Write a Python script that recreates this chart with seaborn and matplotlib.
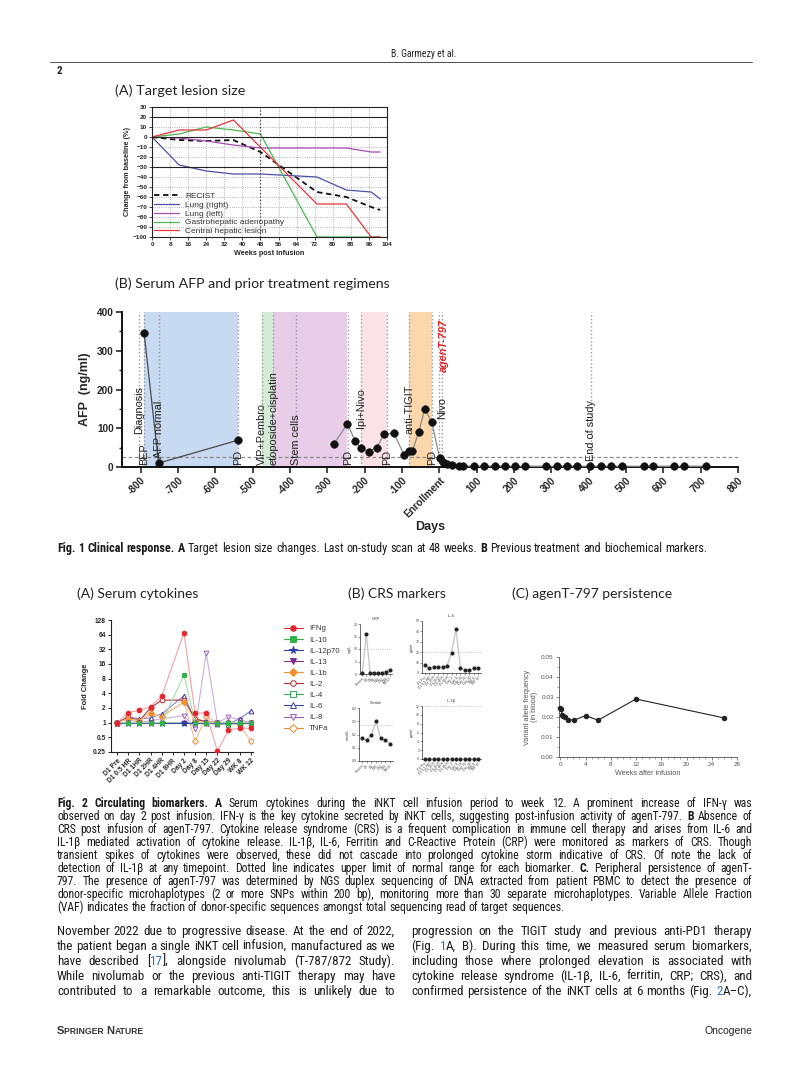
import numpy as np
import pandas as pd
import matplotlib
matplotlib.use("Agg")
import matplotlib.pyplot as plt
from matplotlib import font_manager as fm
from matplotlib.lines import Line2D
import seaborn as sns

W, H = 805, 1079

# ---------------- Fig 1A: target lesion size ----------------
wk_common = [0, 12, 24, 36, 48, 73, 86, 97, 101]
recist = [0, -3, -4, -3, -15, -55, -60, -70, -73]
lung_right = [0, -28, -34, -37, -37, -40, -53, -55, -62]
lung_left = [0, -1, -4, -8, -11, -11, -11, -15, -15]
gastro = [0, 3, 10, 7, 3, -100, -100, -100, -100]
wk_hepatic = [0, 12, 24, 36, 73, 86, 97, 101]
hepatic = [0, 7, 7, 17, -67, -67, -100, -100]

# ---------------- Fig 1B: serum AFP ----------------
afp_day = [-791, -752, -540,
           -282, -246, -226, -210, -189, -168, -148, -122, -95, -81, -72, -55, -39, -20,
           1, 9, 20, 35, 52, 64, 93, 120, 149, 175, 202, 230, 286, 315, 342, 370, 404,
           432, 461, 488, 547, 573, 629, 655, 714]
afp_val = [347, 10, 69,
           60, 112, 68, 49, 40, 50, 84, 88, 32, 42, 42, 91, 150, 115,
           22, 14, 7, 4, 3, 3, 2, 2, 3, 2, 2, 2, 2, 2, 3, 2, 2,
           2, 2, 2, 2, 2, 2, 2, 2]
afp_seg = [0, 0, 0] + [1] * 39

regimens = ["BEP", "VIP+Pembro", "etoposide+cisplatin", "Ipi+Nivo", "anti-TIGIT"]
reg_start = [-790, -475, -445, -210, -80]
reg_end = [-540, -445, -248, -140, -20]
reg_color = ["#c8daf1", "#d3ebd7", "#e8cde8", "#fbe2e6", "#fbd7ab"]

event_day = [-805, -790, -752, -540, -475, -445, -385, -245, -210, -140, -80, -20, 0, 8, 405]
event_label = ["Diagnosis", "BEP", "AFP normal", "PD", "VIP+Pembro", "etoposide+cisplatin",
               "Stem cells", "PD", "Ipi+Nivo", "PD", "anti-TIGIT", "PD", "", "Nivo", "End of study"]
event_y = [85, 5, 22, 5, 5, 5, 5, 5, 100, 5, 85, 5, 0, 125, 15]

# ---------------- Fig 2A: serum cytokines ----------------
timepoints = ["D1 Pre", "D1 0.5 HR", "D1 1HR", "D1 2HR", "D1 4HR", "D1 8HR", "Day 2",
              "Day 8", "Day 15", "Day 22", "Day 29", "WK 8", "WK 12"]
nan = np.nan
ifng = [1, 1.6, 1.8, 2.1, 3.5, nan, 70, 1.55, 1.6, 0.26, 0.7, 0.78, 0.76]
il10 = [1, 1, 1, 1, 1, nan, 9.5, 1, 1, 1, 1, 1, 1]
il12p70 = [1, 1, 1, 1, 1, nan, 1, 1, 1, 1, 1, 1, 1]
il13 = [1, 1, 1, 1, 1, nan, 1, 1, 1, 1, 1, 1, 1]
il1b = [1, 1.2, 1.1, 1.6, 1.3, nan, 2.7, 1.1, 1, 1, 1, 1, 1]
il2 = [1, 1.3, 1.1, 2.0, 2.9, nan, 2.9, 1.2, 1.05, 1, 1, 1, 1]
il4 = [1, 1, 1, 1, 1, nan, 1, 1, 1, 0.92, 0.9, 1, 1]
il6 = [1, 1.3, 1.2, 1.25, 1.5, nan, 3.6, 1.15, 1.05, 0.92, 0.95, 1.2, 1.75]
il8 = [1, 1.2, 1.0, 1.1, 1.2, nan, 1.4, 0.75, 27, 1.0, 1.3, 1.15, 1.0]
tnfa = [1, 1.2, 1.1, 1.5, 1.4, nan, 2.6, 0.42, 1.35, 1.0, 1.0, 0.88, 0.42]

cyto_names = ["IFNg", "IL-10", "IL-12p70", "IL-13", "IL-1b", "IL-2", "IL-4", "IL-6", "IL-8", "TNFa"]
cyto_vals = [ifng, il10, il12p70, il13, il1b, il2, il4, il6, il8, tnfa]
cyto_mark = ["o", "s", "*", "v", "D", "o", "s", "^", "v", "D"]
cyto_fill = [True, True, True, True, True, False, False, False, False, False]
cyto_col = ["#e4252b", "#33b04a", "#2f3d9c", "#7d2f8f", "#f39130",
            "#b3262a", "#3aa655", "#3d3f9e", "#9b5bb5", "#e8882c"]
cyto_line = ["#f5a0a2", "#a6dba9", "#3f4aa4", "#b98ac6", "#f7c48f",
             "#a83a38", "#9fd3a7", "#8587c8", "#cdaedb", "#f1bd8d"]

# ---------------- Fig 2B: CRS markers ----------------
crp_lab = ["Screen", "D1", "D2", "D8", "D15", "D22", "D29", "WK12"]
crp = [0.5, 16, 0.5, 0.5, 0.5, 0.6, 1.0, 1.8]
ferr_lab = ["Screen", "D2", "D8", "D15", "D22", "D29", "WK12"]
ferritin = [0.17, 0.16, 0.195, 0.30, 0.17, 0.155, 0.13]
il6_crs = [7.5, 4.5, 5.5, 5.8, 6, 7, 19.5, 42, 5, 2.5, 2.5, 5, 5.2]
il1b_crs = [0] * 13

# ---------------- Fig 2C: persistence ----------------
pers_week = [0, 0.15, 0.3, 0.5, 0.8, 1.2, 2.2, 4, 6, 12, 26]
pers_vaf = [0.0245, 0.0238, 0.021, 0.0205, 0.0198, 0.0187, 0.0184, 0.0207, 0.0184, 0.029, 0.0195]

# =====================================================================
sns.set_theme(style="ticks")
plt.rcParams["font.family"] = ["Liberation Sans", "DejaVu Sans"]
plt.rcParams["axes.facecolor"] = "white"
plt.rcParams["figure.facecolor"] = "white"

names = {f.name for f in fm.fontManager.ttflist}
narrow = "Liberation Sans"
for cand in ["Liberation Sans Narrow", "DejaVu Sans Condensed", "Roboto Condensed"]:
    if cand in names:
        narrow = cand
        break
cap_font = narrow
title_font = ["Lato", "DejaVu Sans"]

fig = plt.figure(figsize=(W / 100, H / 100), dpi=100)
R = fig.canvas.get_renderer()


def rect(l, t, r, b):
    return [l / W, 1 - b / H, (r - l) / W, (b - t) / H]


def ftext(x, y, s, **kw):
    return fig.text(x / W, 1 - y / H, s, **kw)


def bold_ticks(ax):
    for lab in ax.get_xticklabels() + ax.get_yticklabels():
        lab.set_fontweight("bold")


def run_text(x, y, pieces, **kw):
    # draw consecutive pieces (text, size) on one baseline
    for s, size in pieces:
        t = ftext(x, y, s, fontsize=size, va="baseline", **kw)
        x += t.get_window_extent(R).width


# ---------- page header ----------
ftext(456, 57, "B. Garmezy et al.", fontsize=7.0, family=narrow, color="#222", ha="right")
fig.add_artist(Line2D([50 / W, 752 / W], [1 - 62 / H, 1 - 62 / H], color="#333", lw=0.6))
ftext(57, 74, "2", fontsize=8, fontweight="bold", family=narrow, color="#222")

# ---------- Fig 1A ----------
ftext(115, 95, "(A) Target lesion size", fontsize=10.4, family=title_font, color="#222")
ax = fig.add_axes(rect(152, 107, 387, 237))
df = pd.DataFrame({"week": wk_common, "RECIST": recist, "Lung (right)": lung_right,
                   "Lung (left)": lung_left, "Gastrohepatic adenopathy": gastro})
for name, col, ls, lw in [("RECIST", "#111111", (0, (3, 2)), 1.3),
                          ("Lung (right)", "#4b50a8", "-", 0.9),
                          ("Lung (left)", "#a24fae", "-", 0.9),
                          ("Gastrohepatic adenopathy", "#4cb851", "-", 0.9)]:
    sns.lineplot(data=df, x="week", y=name, ax=ax, color=col, lw=lw, linestyle=ls, label=name)
sns.lineplot(x=wk_hepatic, y=hepatic, ax=ax, color="#e8343c", lw=0.9, label="Central hepatic lesion")
ax.set_xlim(0, 104)
ax.set_ylim(-100, 30)
ax.set_xticks(range(0, 105, 8))
ax.set_yticks(range(-100, 31, 10))
ax.grid(True, ls=":", color="#9a9a9a", lw=0.6)
for yv in [20, 0, -30]:
    ax.axhline(yv, color="#222", lw=0.8)
ax.axvline(48, color="#444", lw=0.9, ls=":")
for s in ax.spines.values():
    s.set_linewidth(0.8)
    s.set_color("#222")
ax.tick_params(labelsize=4.6, length=2, width=0.6, pad=1.5)
bold_ticks(ax)
ax.set_xlabel("Weeks post infusion", fontsize=5.2, fontweight="bold", labelpad=2)
ax.set_ylabel("Change from baseline (%)", fontsize=5.2, fontweight="bold", labelpad=1.5)
ax.legend(loc="lower left", frameon=False, fontsize=6.0, handlelength=3.0,
          labelspacing=0.12, borderaxespad=0.1, borderpad=0.1, handletextpad=0.8,
          labelcolor="#333")

# ---------- Fig 1B ----------
ftext(115, 288, "(B) Serum AFP and prior treatment regimens", fontsize=10.2, family=title_font, color="#222")
ax = fig.add_axes(rect(122, 312, 738, 467))
for a, b, c in zip(reg_start, reg_end, reg_color):
    ax.axvspan(a, b, color=c, lw=0, zorder=0)
for d in event_day:
    ax.axvline(d, color="#9a9a9a", ls=":", lw=1.0, zorder=1)
ax.axhline(25, color="#8a8a8a", ls=(0, (3, 2)), lw=0.9, zorder=1)
afp = pd.DataFrame({"day": afp_day, "afp": afp_val, "seg": afp_seg})
sns.lineplot(data=afp[afp.seg == 0], x="day", y="afp", ax=ax, color="#4a4a4a", lw=0.9,
             estimator=None, sort=False, zorder=3)
sns.lineplot(data=afp[afp.seg == 1], x="day", y="afp", ax=ax, color="#8a8a8a", lw=0.9,
             estimator=None, sort=False, zorder=3)
sns.scatterplot(data=afp, x="day", y="afp", ax=ax, color="#111", s=30, edgecolor="#111",
                linewidth=0.4, zorder=4, clip_on=False)
for d, lab, yv in zip(event_day, event_label, event_y):
    if lab:
        ax.text(d, yv, lab, rotation=90, ha="center", va="bottom", fontsize=7.8,
                color="#222", zorder=5)
ax.text(12, 245, "agenT-797", rotation=90, ha="center", va="bottom", fontsize=7.8,
        color="#e3262c", fontweight="bold", style="italic", zorder=5)
ax.set_xlim(-850, 800)
ax.set_ylim(0, 400)
ax.set_xticks(range(-800, 801, 100))
ax.set_xticklabels([("Enrollment" if v == 0 else str(v)) for v in range(-800, 801, 100)],
                   rotation=45, ha="right", rotation_mode="anchor")
ax.set_yticks(range(0, 401, 100))
ax.set_yticks(range(50, 400, 100), minor=True)
sns.despine(ax=ax)
for s in ["left", "bottom"]:
    ax.spines[s].set_linewidth(1.4)
    ax.spines[s].set_color("#111")
ax.tick_params(which="major", labelsize=7.2, length=4, width=1.2, pad=2)
ax.tick_params(which="minor", length=2.5, width=1.0)
bold_ticks(ax)
ax.set_xlabel("Days", fontsize=9, fontweight="bold", labelpad=1)
ax.set_ylabel("AFP  (ng/ml)", fontsize=9, fontweight="bold", labelpad=4)

# ---------- caption / body text helpers ----------


def parse(line):
    """split a text line into words; '*' toggles bold, '~' toggles blue"""
    words = []
    bold = parse.bold
    blue = parse.blue
    for raw in line.split(" "):
        segs = []
        cur = ""
        for ch in raw:
            if ch in "*~":
                if cur:
                    segs.append((cur, bold, blue))
                    cur = ""
                if ch == "*":
                    bold = not bold
                else:
                    blue = not blue
            else:
                cur += ch
        if cur:
            segs.append((cur, bold, blue))
        if segs:
            words.append(segs)
    parse.bold, parse.blue = bold, blue
    return words


parse.bold = False
parse.blue = False


def put_line(x0, x1, y, line, size, justify=True):
    words = parse(line)
    placed = []
    widths = []
    for segs in words:
        objs = []
        tw = 0
        for s, b, bl in segs:
            t = ftext(0, y, s, fontsize=size, family=cap_font,
                      fontweight="bold" if b else "normal",
                      color="#2a6ebb" if bl else "#1a1a1a", va="baseline")
            w = t.get_window_extent(R).width
            objs.append((t, w))
            tw += w
        placed.append(objs)
        widths.append(tw)
    space = size * 100 / 72 * 0.24
    if justify and len(words) > 1:
        gap = (x1 - x0 - sum(widths)) / (len(words) - 1)
    else:
        gap = space
    x = x0
    for objs in placed:
        for t, w in objs:
            t.set_x(x / W)
            x += w
        x += gap


put_line(57, 752, 552, "*Fig. 1   Clinical response. A* Target lesion size changes. Last on-study scan at 48 weeks. "
         "*B* Previous treatment and biochemical markers.", 8.7, justify=False)

# ---------- Fig 2A ----------
ftext(77, 598, "(A) Serum cytokines", fontsize=10, family=title_font, color="#222")
ax = fig.add_axes(rect(111, 620, 253, 752))
xs = np.arange(len(timepoints))
handles = []
for i in reversed(range(len(cyto_names))):
    d = pd.DataFrame({"x": xs, "y": cyto_vals[i]}).dropna()
    fc = cyto_col[i] if cyto_fill[i] else "white"
    ms = 5 if cyto_mark[i] == "*" else (3.0 if cyto_mark[i] == "D" else 3.4)
    sns.lineplot(data=d, x="x", y="y", ax=ax, color=cyto_line[i], lw=0.8, marker=cyto_mark[i],
                 mfc=fc, mec=cyto_col[i], mew=0.7, ms=ms, zorder=3 + (10 - i))
    handles.append(Line2D([], [], color=cyto_col[i], lw=0.8, marker=cyto_mark[i], mfc=fc,
                          mec=cyto_col[i], mew=0.7, ms=ms + 0.6))
handles = handles[::-1]
ax.set_yscale("log", base=2)
ax.set_ylim(0.25, 128)
yt = [0.25, 0.5, 1, 2, 4, 8, 16, 32, 64, 128]
ax.set_yticks(yt)
ax.set_yticklabels(["0.25", "0.5", "1", "2", "4", "8", "16", "32", "64", "128"])
ax.minorticks_off()
ax.set_xlim(-0.55, 12.2)
ax.set_xticks(xs)
ax.set_xticklabels(timepoints, rotation=45, ha="right", rotation_mode="anchor")
sns.despine(ax=ax)
for s in ["left", "bottom"]:
    ax.spines[s].set_linewidth(0.8)
    ax.spines[s].set_color("#222")
ax.tick_params(labelsize=4.8, length=2.2, width=0.7, pad=1.5)
bold_ticks(ax)
ax.set_xlabel("")
ax.set_ylabel("Fold Change", fontsize=5.4, fontweight="bold", labelpad=3)
fig.legend(handles, cyto_names, loc="upper left", bbox_to_anchor=(277 / W, 1 - 618 / H),
           frameon=False, fontsize=5.6, handlelength=2.4, labelspacing=0.47,
           handletextpad=0.8, labelcolor="#333")

# ---------- Fig 2B ----------
ftext(348, 598, "(B) CRS markers", fontsize=10, family=title_font, color="#222")


def crs_panel(r, vals, labels, title, unit, ymax, ystep, uln):
    a = fig.add_axes(rect(*r))
    d = pd.DataFrame({"x": np.arange(len(vals)), "y": vals})
    sns.lineplot(data=d, x="x", y="y", ax=a, color="#c4c4c4", lw=0.9, marker="o",
                 mfc="#222", mec="#222", ms=2.2, zorder=3, clip_on=False)
    a.axhline(uln, color="#b0b0b0", ls=":", lw=0.6)
    a.set_ylim(0, ymax)
    a.set_yticks(np.arange(0, ymax + ystep / 2, ystep))
    a.set_xlim(-0.6, len(vals) - 0.4)
    a.set_xticks(np.arange(len(vals)))
    a.set_xticklabels(labels, rotation=45, ha="right", rotation_mode="anchor")
    sns.despine(ax=a)
    for s in ["left", "bottom"]:
        a.spines[s].set_linewidth(0.5)
        a.spines[s].set_color("#333")
    a.tick_params(labelsize=2.4, length=1.2, width=0.4, pad=0.8, colors="#444")
    a.set_xlabel("")
    a.set_ylabel(unit, fontsize=2.6, labelpad=1.5, color="#333")
    a.set_title(title, fontsize=2.8, pad=3, color="#333")
    return a


a = crs_panel((360, 624, 392, 674), crp, crp_lab, "CRP", "mg/L", 20, 5, 10)
a = crs_panel((422, 621, 481, 673), il6_crs, timepoints, "IL-6", "pg/ml", 50, 10, 20)
a = crs_panel((359, 708, 393, 761), ferritin, ferr_lab, "Ferritin", "nmol/L", 0.4, 0.1, 0.27)
a = crs_panel((422, 706, 481, 759), il1b_crs, timepoints, "IL-1β", "pg/ml", 12, 2, 12)

# ---------- Fig 2C ----------
ftext(512, 598, "(C) agenT-797 persistence", fontsize=10, family=title_font, color="#222")
ax = fig.add_axes(rect(559, 657, 737, 757))
sns.lineplot(x=pers_week, y=pers_vaf, ax=ax, color="#222", lw=0.8, marker="o",
             mfc="#222", mec="#222", ms=3.2, zorder=3, clip_on=False)
ax.set_xlim(-0.2, 28)
ax.set_ylim(0, 0.05)
ax.set_xticks(range(0, 29, 4))
ax.set_xticks(range(0, 29, 1), minor=True)
ax.set_yticks(np.arange(0, 0.051, 0.01))
ax.set_yticks(np.arange(0.005, 0.05, 0.01), minor=True)
ax.set_yticklabels(["0.00", "0.01", "0.02", "0.03", "0.04", "0.05"])
sns.despine(ax=ax)
for s in ["left", "bottom"]:
    ax.spines[s].set_linewidth(0.6)
    ax.spines[s].set_color("#555")
ax.tick_params(which="major", labelsize=4.6, length=2.2, width=0.5, pad=1.5, colors="#555")
ax.tick_params(which="minor", length=1.2, width=0.4, colors="#555")
ax.set_xlabel("Weeks after infusion", fontsize=5.2, color="#555", labelpad=2)
ax.set_ylabel("Variant allele frequency\n(in blood)", fontsize=5.2, color="#555", labelpad=2,
              linespacing=1.0)

# ---------- Fig 2 caption ----------
cap2 = [
    "*Fig. 2   Circulating biomarkers. A* Serum cytokines during the iNKT cell infusion period to week 12. A prominent increase of IFN-γ was",
    "observed on day 2 post infusion. IFN-γ is the key cytokine secreted by iNKT cells, suggesting post-infusion activity of agenT-797. *B* Absence of",
    "CRS post infusion of agenT-797. Cytokine release syndrome (CRS) is a frequent complication in immune cell therapy and arises from IL-6 and",
    "IL-1β mediated activation of cytokine release. IL-1β, IL-6, Ferritin and C-Reactive Protein (CRP) were monitored as markers of CRS. Though",
    "transient spikes of cytokines were observed, these did not cascade into prolonged cytokine storm indicative of CRS. Of note the lack of",
    "detection of IL-1β at any timepoint. Dotted line indicates upper limit of normal range for each biomarker. *C.* Peripheral persistence of agenT-",
    "797. The presence of agenT-797 was determined by NGS duplex sequencing of DNA extracted from patient PBMC to detect the presence of",
    "donor-specific microhaplotypes (2 or more SNPs within 200 bp), monitoring more than 30 separate microhaplotypes. Variable Allele Fraction",
    "(VAF) indicates the fraction of donor-specific sequences amongst total sequencing read of target sequences.",
]
for i, line in enumerate(cap2):
    put_line(57, 752, 807 + 13 * i, line, 8.5, justify=(i < len(cap2) - 1))

# ---------- body text ----------
left_col = [
    "November 2022 due to progressive disease. At the end of 2022,",
    "the patient began a single iNKT cell infusion, manufactured as we",
    "have described [~17~], alongside nivolumab (T-787/872 Study).",
    "While nivolumab or the previous anti-TIGIT therapy may have",
    "contributed to a remarkable outcome, this is unlikely due to",
]
right_col = [
    "progression on the TIGIT study and previous anti-PD1 therapy",
    "(Fig. ~1~A, B). During this time, we measured serum biomarkers,",
    "including those where prolonged elevation is associated with",
    "cytokine release syndrome (IL-1β, IL-6, ferritin, CRP; CRS), and",
    "confirmed persistence of the iNKT cells at 6 months (Fig. ~2~A–C),",
]
for i, line in enumerate(left_col):
    put_line(57, 395, 935 + 15 * i, line, 9.4)
for i, line in enumerate(right_col):
    put_line(411, 752, 935 + 15 * i, line, 9.4)

# ---------- footer ----------
run_text(57, 1034, [("S", 8.0), ("PRINGER ", 6.2), ("N", 8.0), ("ATURE", 6.2)],
         fontweight="bold", family="Liberation Sans", color="#333")
ftext(752, 1034, "Oncogene", fontsize=7.5, family="Liberation Sans", color="#222", ha="right")

fig.savefig("out.png", dpi=100)
